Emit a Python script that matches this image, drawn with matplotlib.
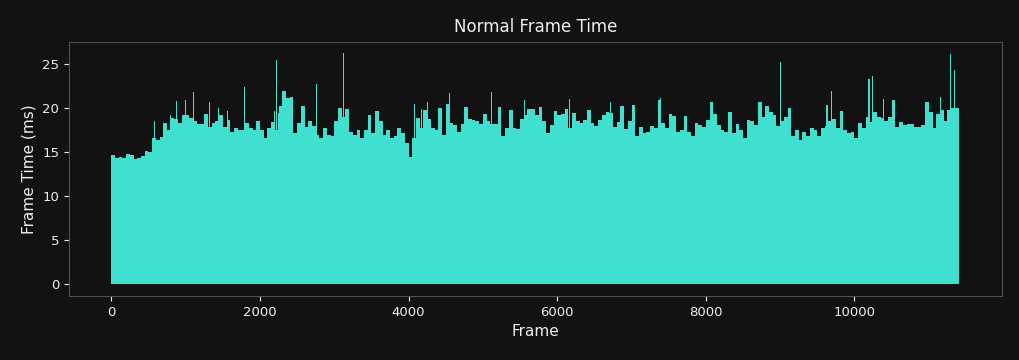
import matplotlib
matplotlib.use("Agg")
import matplotlib.pyplot as plt
import numpy as np

# frame time (ms), top of each block of 50 frames
chunk_size = 50
chunk_ms = [
    14.7, 14.3, 14.5, 14.4, 14.8, 14.7, 14.2, 14.3, 14.6, 15.1,
    15.0, 16.6, 16.4, 16.7, 18.3, 17.5, 18.9, 18.8, 18.3, 19.2,
    19.2, 18.9, 18.6, 18.2, 18.2, 19.4, 17.9, 18.3, 18.5, 19.2,
    17.9, 18.7, 17.3, 17.7, 17.5, 17.5, 18.3, 17.7, 17.5, 18.5,
    17.5, 16.6, 17.7, 18.4, 17.5, 20.3, 22.0, 21.2, 21.3, 17.2,
    18.3, 20.2, 17.9, 18.6, 18.0, 17.0, 16.6, 17.8, 17.0, 16.9,
    18.5, 20.0, 19.0, 19.9, 17.3, 17.0, 17.5, 16.6, 17.5, 19.2,
    17.2, 19.7, 18.5, 17.0, 17.5, 16.6, 16.8, 17.8, 17.2, 16.0,
    14.5, 16.6, 18.9, 17.7, 19.8, 18.8, 17.7, 17.5, 20.0, 17.0,
    20.5, 18.3, 18.1, 17.3, 18.2, 20.1, 18.8, 18.7, 18.5, 18.2,
    19.4, 18.5, 18.2, 18.2, 20.1, 16.9, 17.8, 19.8, 17.7, 17.6,
    18.8, 19.2, 19.9, 19.9, 19.2, 20.1, 18.5, 17.2, 18.1, 19.7,
    19.2, 19.4, 19.9, 17.7, 19.5, 18.5, 18.3, 18.7, 19.8, 18.3,
    18.0, 18.7, 19.2, 19.6, 19.5, 17.9, 18.4, 20.3, 17.6, 18.5,
    20.4, 16.8, 17.9, 17.2, 17.3, 18.0, 17.8, 20.9, 18.3, 17.8,
    19.4, 19.1, 17.3, 17.5, 19.1, 17.3, 16.9, 18.3, 18.1, 17.9,
    18.7, 20.7, 19.4, 18.1, 17.5, 17.3, 19.6, 17.2, 18.2, 17.5,
    16.6, 18.7, 18.5, 18.1, 20.7, 19.0, 20.2, 19.6, 19.2, 18.0,
    18.5, 19.0, 20.0, 16.9, 17.5, 16.4, 17.3, 16.9, 17.8, 17.5,
    16.8, 17.7, 18.0, 18.6, 18.8, 17.8, 19.7, 17.5, 17.2, 17.3,
    16.6, 18.3, 17.7, 19.0, 18.4, 19.6, 19.0, 18.9, 18.5, 19.0,
    20.9, 17.9, 18.4, 18.1, 18.2, 18.2, 17.9, 17.9, 18.1, 20.7,
    19.6, 17.8, 19.4, 19.8, 18.6, 19.8, 20.0, 20.0,
]
tail_frames = 10
tail_ms = 16.3

# single-frame spikes
spike_frames = [575, 795, 875, 995, 1112, 1323, 1440, 1565, 1798, 2200,
                2229, 2255, 2760, 3125, 4040, 4085, 4180, 4250, 4555, 5115,
                5560, 6165, 6720, 7395, 9010, 9630, 9688, 10195, 10245,
                10395, 11160, 11290, 11340]
spike_ms = [18.6, 19.2, 20.8, 20.9, 21.8, 20.7, 20.0, 19.7, 22.4, 19.7,
            25.5, 19.5, 22.8, 26.3, 14.1, 20.5, 19.9, 20.7, 21.7, 21.8,
            20.9, 21.1, 20.7, 21.2, 25.2, 20.4, 21.9, 23.3, 23.6,
            21.1, 21.3, 26.2, 24.3]

bg = "#121212"
bar_color = "#40e0d0"
fg = "#eeeeee"

fig = plt.figure(figsize=(10.2, 3.6), dpi=100, facecolor=bg)
ax = fig.add_axes([0.0676, 0.178, 0.9144, 0.705], facecolor=bg)

starts = np.arange(len(chunk_ms)) * chunk_size
ax.bar(starts, chunk_ms, width=chunk_size, align="edge",
       color=bar_color, linewidth=0)
ax.bar([starts[-1] + chunk_size], [tail_ms], width=tail_frames,
       align="edge", color=bar_color, linewidth=0)
ax.bar(spike_frames, spike_ms, width=14, color=bar_color, linewidth=0)

ax.set_xlim(-570, 11980)
ax.set_ylim(-1.3, 27.5)
ax.set_xticks([0, 2000, 4000, 6000, 8000, 10000])
ax.set_yticks([0, 5, 10, 15, 20, 25])

ax.set_title("Normal Frame Time", color=fg, fontsize=12, pad=7)
ax.set_xlabel("Frame", color=fg, fontsize=11)
ax.set_ylabel("Frame Time (ms)", color=fg, fontsize=11)
ax.tick_params(colors=fg, labelsize=9.5)
for s in ax.spines.values():
    s.set_color("#505050")

fig.savefig("out.png", dpi=100, facecolor=bg)
